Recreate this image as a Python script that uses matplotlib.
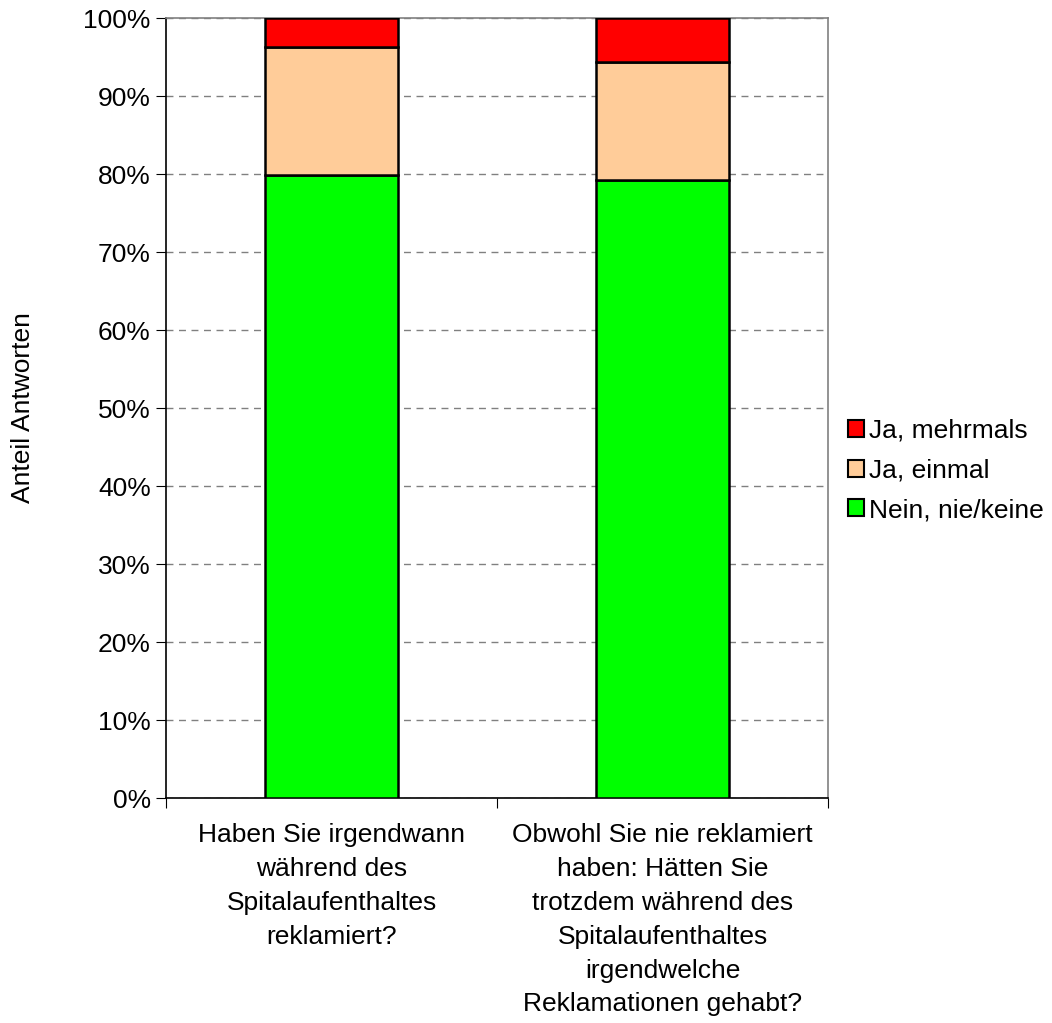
import matplotlib.pyplot as plt
from matplotlib.patches import Patch
from matplotlib.ticker import FixedLocator, PercentFormatter

plt.rcParams['font.family'] = ['Liberation Sans', 'DejaVu Sans']

categories = ['Haben Sie irgendwann\nwährend des\nSpitalaufenthaltes\nreklamiert?',
              'Obwohl Sie nie reklamiert\nhaben: Hätten Sie\ntrotzdem während des\nSpitalaufenthaltes\nirgendwelche\nReklamationen gehabt?']
series_names = ['Nein, nie/keine', 'Ja, einmal', 'Ja, mehrmals']
nein = [79.9, 79.2]
einmal = [16.4, 15.1]
mehrmals = [3.7, 5.7]
colors = ['#00ff00', '#ffcc99', '#ff0000']

fs = 19

fig = plt.figure(figsize=(10.52, 10.23), dpi=100)
ax = fig.add_axes([166 / 1052, 1 - 798 / 1023, (828 - 166) / 1052, (798 - 18) / 1023])

x = list(range(len(categories)))
bottom = [0] * len(x)
for vals, col in zip([nein, einmal, mehrmals], colors):
    ax.bar(x, vals, width=0.4, bottom=bottom, color=col, edgecolor='black', linewidth=1.8, zorder=3)
    bottom = [b + v for b, v in zip(bottom, vals)]

ax.set_xlim(-0.5, 1.5)
ax.set_ylim(0, 100)
ax.yaxis.set_major_locator(FixedLocator(range(0, 101, 10)))
ax.yaxis.set_major_formatter(PercentFormatter(decimals=0))
ax.grid(axis='y', color='#808080', linestyle=(0, (5, 4)), linewidth=1, zorder=0)

ax.set_xticks([-0.5, 0.5, 1.5])
ax.set_xticklabels([])
ax.set_xticks(x, minor=True)
ax.set_xticklabels(categories, minor=True, linespacing=1.52)
ax.tick_params(axis='x', which='minor', length=0, pad=18, labelsize=fs)
ax.tick_params(axis='x', which='major', length=7, direction='out', color='black')
ax.tick_params(axis='y', length=7, direction='out', labelsize=fs, pad=4)

for s in ax.spines.values():
    s.set_color('#808080')
    s.set_linewidth(1.2)
ax.spines['left'].set_color('black')
ax.spines['bottom'].set_color('black')

ax.set_ylabel('Anteil Antworten', fontsize=fs, labelpad=35)

handles = [Patch(facecolor=c, edgecolor='black', linewidth=1.5) for c in colors]
leg = ax.legend(handles[::-1], series_names[::-1], loc='center left', bbox_to_anchor=(1.014, 0.42),
                frameon=False, fontsize=fs, handlelength=0.62, handleheight=0.62,
                handletextpad=0.2, labelspacing=0.6, borderaxespad=0)

fig.savefig('out.png', dpi=100)
